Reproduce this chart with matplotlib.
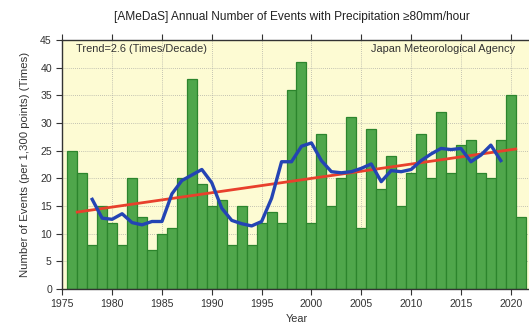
import matplotlib
matplotlib.use("Agg")
import matplotlib.pyplot as plt

plt.rcParams['font.family'] = ['Liberation Sans', 'DejaVu Sans']

years = list(range(1976, 2022))
counts = [25, 21, 8, 15, 12, 8, 20, 13, 7, 10,
          11, 20, 38, 19, 15, 16, 8, 15, 8, 12,
          14, 12, 36, 41, 12, 28, 15, 20, 31, 11,
          29, 18, 24, 15, 21, 28, 20, 32, 21, 26,
          27, 21, 20, 27, 35, 13]

# 5-year running mean (centred)
mean_years = list(range(1978, 2020))
mean_vals = [16.2, 12.8, 12.6, 13.6, 12.0, 11.6, 12.2, 12.2, 17.2, 19.6,
             20.6, 21.6, 19.2, 14.6, 12.4, 11.8, 11.4, 12.2, 16.4, 23.0,
             23.0, 25.8, 26.4, 23.2, 21.2, 21.0, 21.2, 21.8, 22.6, 19.4,
             21.4, 21.2, 21.6, 23.2, 24.4, 25.4, 25.2, 25.4, 23.0, 24.2,
             26.0, 23.2]

# linear trend (2.6 times/decade)
trend_years = [1976.5, 2020.5]
trend_vals = [13.9, 25.3]

xticks = [1975, 1980, 1985, 1990, 1995, 2000, 2005, 2010, 2015, 2020]
yticks = [0, 5, 10, 15, 20, 25, 30, 35, 40, 45]

fig = plt.figure(figsize=(5.29, 3.25), dpi=100)
ax = fig.add_axes([62.3 / 529, 36 / 325, 468.4 / 529, 249 / 325])
ax.set_facecolor('#fdfbd3')

ax.bar(years, counts, width=1.0, color='#4fa64b', edgecolor='#2c852d',
       linewidth=0.9, zorder=2)
ax.plot(mean_years, mean_vals, color='#2444b4', lw=2.4, zorder=4,
        solid_joinstyle='round')
ax.plot(trend_years, trend_vals, color='#e8402c', lw=2.0, zorder=3)

ax.set_xlim(1975, 2022)
ax.set_ylim(0, 45)
ax.set_xticks(xticks)
ax.set_yticks(yticks)
ax.grid(True, color='#b0b0a8', linestyle=(0, (1, 1.5)), linewidth=0.6, zorder=1)
ax.tick_params(axis='both', direction='out', length=4, width=0.8,
               labelsize=7.6, colors='#333333', top=True, right=False,
               labeltop=False)
for s in ax.spines.values():
    s.set_color('#333333')
    s.set_linewidth(1.0)
    s.set_zorder(5)

ax.set_xlabel('Year', fontsize=7.8, color='#333333', labelpad=3)
ax.set_ylabel('Number of Events (per 1,300 points) (Times)', fontsize=8.2,
              color='#333333', labelpad=7)

ax.text(1976.4, 43.3, 'Trend=2.6 (Times/Decade)', fontsize=7.9,
        color='#333333', va='center', ha='left', zorder=6)
ax.text(2020.4, 43.3, 'Japan Meteorological Agency', fontsize=7.9,
        color='#333333', va='center', ha='right', zorder=6)

fig.text(292 / 529, 1 - 17 / 325,
         '[AMeDaS] Annual Number of Events with Precipitation \u226580mm/hour',
         fontsize=8.6, color='#222222', ha='center', va='center')

fig.savefig('out.png', dpi=100)
